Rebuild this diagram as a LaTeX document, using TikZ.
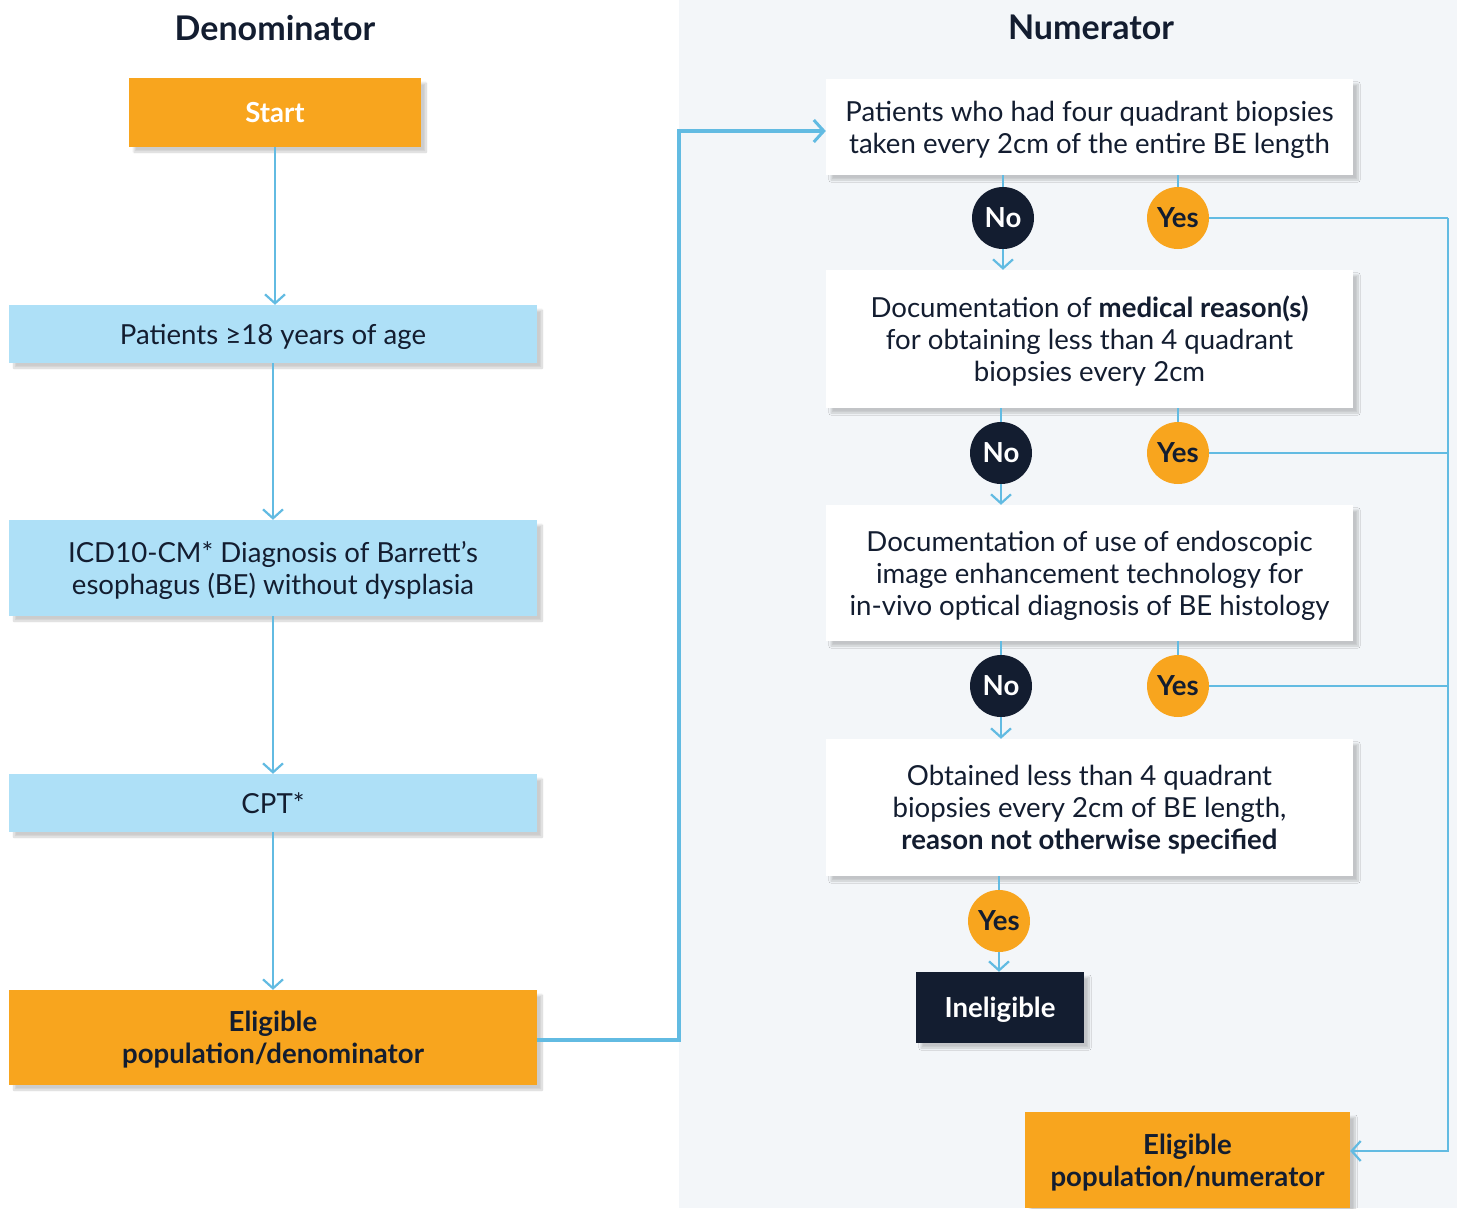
\documentclass[tikz,border=0pt]{standalone}
\usepackage{fontspec}
\setmainfont{Lato}
\usetikzlibrary{arrows.meta,shadows.blur}
\definecolor{ink}{HTML}{131D30}
\definecolor{orng}{HTML}{F8A51E}
\definecolor{lblue}{HTML}{AEE0F7}
\definecolor{lnk}{HTML}{62BBE2}
\definecolor{panel}{HTML}{F3F6F9}
\newcommand{\bodyfs}{\fontsize{27.6}{32}\selectfont}
\newcommand{\headfs}{\fontsize{34}{38}\selectfont\bfseries}
\tikzset{
  shd/.style={blur shadow={shadow xshift=5pt,shadow yshift=-5pt,shadow opacity=20,shadow blur steps=10}},
  bluebox/.style={fill=lblue,shd,inner sep=0pt,minimum width=528pt,align=center,font=\bodyfs,text=ink,text depth=0pt},
  orbox/.style={fill=orng,shd,inner sep=0pt,align=center,font=\bodyfs\bfseries,text=ink,text depth=0pt},
  whitebox/.style={fill=white,shd,inner sep=0pt,minimum width=527pt,align=center,font=\bodyfs,text=ink,text depth=0pt},
  nocirc/.style={circle,fill=ink,minimum size=62pt,inner sep=0pt,font=\bodyfs\bfseries,text=white},
  yescirc/.style={circle,fill=orng,minimum size=62pt,inner sep=0pt,font=\bodyfs\bfseries,text=ink},
  conn/.style={draw=lnk,line width=2.2pt},
  arr/.style={conn,-{Straight Barb[length=9pt,width=20pt,line width=2.2pt]}},
}
\begin{document}
\begin{tikzpicture}[x=1pt,y=-1pt]
\useasboundingbox (0,0) rectangle (1457,1208);
\fill[panel] (679,0) rectangle (1457,1208);
% titles
\node[font=\headfs,text=ink] (tden) at (275,28) {Denominator};
\node[font=\headfs,text=ink] (tnum) at (1091,27) {Numerator};
% left column
\node[orbox,minimum width=292pt,minimum height=69pt,text=white] (start) at (275,112.5) {Start};
\node[bluebox,minimum height=58pt] (age) at (273,334) {Patients ≥18 years of age};
\node[bluebox,minimum height=96pt] (icd) at (273,568) {ICD10-CM* Diagnosis of Barrett’s\\esophagus (BE) without dysplasia};
\node[bluebox,minimum height=58pt] (cpt) at (273,803) {CPT*};
\node[orbox,minimum width=528pt,minimum height=95pt] (eden) at (273,1037.5) {Eligible\\population/denominator};
\draw[arr] (start.south) -- (start.south |- age.north);
\draw[arr] (age.south) -- (icd.north);
\draw[arr] (icd.south) -- (cpt.north);
\draw[arr] (cpt.south) -- (eden.north);
% right column
\node[whitebox,minimum height=96pt] (b1) at (1089.5,127) {Patients who had four quadrant biopsies\\taken every 2cm of the entire BE length};
\node[whitebox,minimum height=138pt] (b2) at (1089.5,339) {Documentation of \textbf{medical reason(s)}\\for obtaining less than 4 quadrant\\biopsies every 2cm};
\node[whitebox,minimum height=136pt] (b3) at (1089.5,573) {Documentation of use of endoscopic\\image enhancement technology for\\in-vivo optical diagnosis of BE histology};
\node[whitebox,minimum height=137pt] (b4) at (1089.5,807.5) {Obtained less than 4 quadrant\\biopsies every 2cm of BE length,\\\textbf{reason not otherwise specified}};
\node[fill=ink,shd,inner sep=0pt,minimum width=168pt,minimum height=71pt,font=\bodyfs\bfseries,text=white,text depth=0pt] (inel) at (1000,1007.5) {Ineligible};
\node[orbox,minimum width=325pt,minimum height=96pt] (enum) at (1187.5,1160) {Eligible\\population/numerator};
% circles
\node[nocirc] (n1) at (1003,218) {No};
\node[yescirc] (y1) at (1178,218) {Yes};
\node[nocirc] (n2) at (1001,453) {No};
\node[yescirc] (y2) at (1178,453) {Yes};
\node[nocirc] (n3) at (1001,686) {No};
\node[yescirc] (y3) at (1178,686) {Yes};
\node[yescirc] (y4) at (999,921) {Yes};
% denominator to numerator
\draw[conn,line width=4pt,-{Straight Barb[length=10pt,width=22pt,line width=3pt]}] (eden.east |- 0,1040) -- (679,1040) -- (679,131) -- (b1.west |- 0,131);
% flow
\draw[conn] (b1.south -| n1) -- (n1);
\draw[arr] (n1) -- (b2.north -| n1);
\draw[conn] (b1.south -| y1) -- (y1);
\draw[conn] (b2.south -| n2) -- (n2);
\draw[arr] (n2) -- (b3.north -| n2);
\draw[conn] (b2.south -| y2) -- (y2);
\draw[conn] (b3.south -| n3) -- (n3);
\draw[arr] (n3) -- (b4.north -| n3);
\draw[conn] (b3.south -| y3) -- (y3);
\draw[conn] (b4.south -| y4) -- (y4);
\draw[arr] (y4) -- (inel.north -| y4);
\coordinate (rt) at (1448,218);
\coordinate (rb) at (1448,1151);
\draw[conn] (y1.east) -- (rt);
\draw[conn] (y2.east) -- (1448,453);
\draw[conn] (y3.east) -- (1448,686);
\draw[arr] (rt) -- (rb) -- (enum.east |- rb);
\end{tikzpicture}
\end{document}
